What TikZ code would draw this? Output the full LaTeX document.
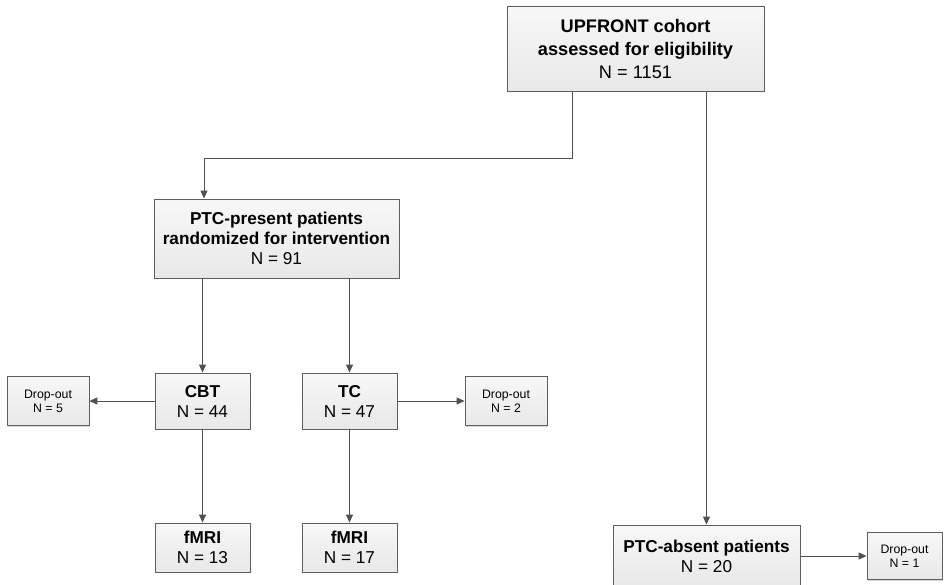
\documentclass[tikz,border=0pt]{standalone}
\usepackage{fontspec}
\setmainfont{Liberation Sans}
\usetikzlibrary{arrows.meta,shadows}
\definecolor{edgegray}{HTML}{5E5E5E}
\definecolor{linegray}{HTML}{505050}
\tikzset{
  box/.style={draw=edgegray, line width=0.9pt, rectangle, align=center, inner sep=0pt,
    top color=white!97!black, bottom color=white!91!black,
    drop shadow={opacity=0.25, shadow xshift=1.2pt, shadow yshift=-1.2pt, fill=black!60}},
  bigtxt/.style={font=\fontsize{17.2}{20}\selectfont},
  toptxt/.style={font=\fontsize{18.2}{23}\selectfont},
  smalltxt/.style={font=\fontsize{12.3}{14}\selectfont},
  arr/.style={draw=linegray, line width=1pt, -{Triangle[length=8pt,width=7pt]}}
}
\begin{document}
\begin{tikzpicture}[x=1pt,y=-1pt]
\useasboundingbox (0,0) rectangle (945,584);
\clip (0,0) rectangle (945,584);
\fill[white] (0,0) rectangle (945,584);

\node[box,toptxt,minimum width=257pt,minimum height=85pt] (top) at (635.5,48.5)
  {\textbf{UPFRONT cohort}\\\textbf{assessed for eligibility}\\N = 1151};
\node[box,bigtxt,minimum width=245pt,minimum height=79pt] (ptcp) at (276.5,238.5)
  {\textbf{PTC-present patients}\\\textbf{randomized for intervention}\\N = 91};
\node[box,bigtxt,minimum width=95pt,minimum height=56pt] (cbt) at (202.5,401)
  {\textbf{CBT}\\N = 44};
\node[box,bigtxt,minimum width=95pt,minimum height=56pt] (tc) at (349.5,401)
  {\textbf{TC}\\N = 47};
\node[box,smalltxt,minimum width=82pt,minimum height=49pt] (do1) at (48,401)
  {Drop-out\\N = 5};
\node[box,smalltxt,minimum width=82pt,minimum height=49pt] (do2) at (506,401)
  {Drop-out\\N = 2};
\node[box,bigtxt,minimum width=95pt,minimum height=49pt] (fmri1) at (202.5,547.5)
  {\textbf{fMRI}\\N = 13};
\node[box,bigtxt,minimum width=95pt,minimum height=49pt] (fmri2) at (349.5,547.5)
  {\textbf{fMRI}\\N = 17};
\node[box,bigtxt,minimum width=187pt,minimum height=62pt] (ptca) at (706.5,556)
  {\textbf{PTC-absent patients}\\N = 20};
\node[box,smalltxt,minimum width=75pt,minimum height=47pt] (do3) at (904.5,556)
  {Drop-out\\N = 1};

\draw[arr] ([xshift=-63.5pt]top.south) -- ++(0,67) -| ([xshift=-72.5pt]ptcp.north);
\draw[arr] (ptca.north |- top.south) -- (ptca.north);
\draw[arr] (cbt.north |- ptcp.south) -- (cbt.north);
\draw[arr] (tc.north |- ptcp.south) -- (tc.north);
\draw[arr] (cbt.west) -- (do1.east);
\draw[arr] (tc.east) -- (do2.west);
\draw[arr] (cbt.south) -- (fmri1.north);
\draw[arr] (tc.south) -- (fmri2.north);
\draw[arr] (ptca.east) -- (do3.west);
\end{tikzpicture}
\end{document}
